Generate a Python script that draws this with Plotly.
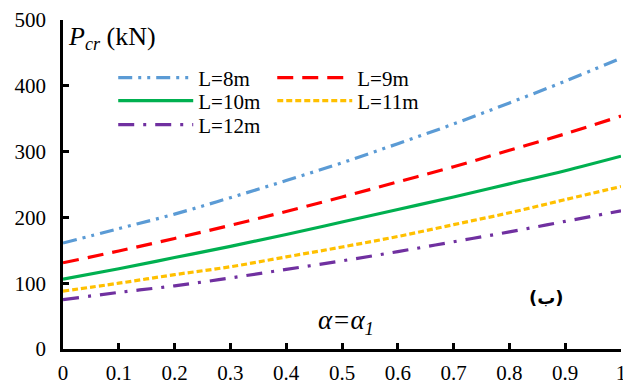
import plotly.graph_objects as go

# ratio values along the horizontal axis
x_vals = [0, 0.1, 0.2, 0.3, 0.4, 0.5, 0.6, 0.7, 0.8, 0.9, 1.0]

# critical load (kN) for each span length
p_8m = [161, 183, 205, 230, 256, 283, 312, 342, 374, 407, 442]
p_9m = [131, 149, 168, 188, 209, 231, 254, 277, 302, 327, 354]
p_10m = [106, 122, 139, 156, 174, 193, 212, 231, 251, 271, 293]
p_11m = [88, 100, 113, 125, 140, 155, 171, 189, 207, 227, 247]
p_12m = [75, 86, 96, 108, 121, 134, 148, 163, 178, 194, 210]

series_names = ["L=8m", "L=9m", "L=10m", "L=11m", "L=12m"]

x_ticks = [0, 0.1, 0.2, 0.3, 0.4, 0.5, 0.6, 0.7, 0.8, 0.9, 1]
y_ticks = [0, 100, 200, 300, 400, 500]

# each series gets its own one-item legend so entries sit in a 2-column grid
styles = [
    dict(color="#5B9BD5", dash="14px,6px,3px,6px,3px,6px", legend="legend", lx=0.09, ly=0.8237),
    dict(color="#FF0000", dash="16px,9px", legend="legend2", lx=0.375, ly=0.8237),
    dict(color="#00B050", dash="solid", legend="legend3", lx=0.09, ly=0.7538),
    dict(color="#FFC000", dash="6px,3px", legend="legend4", lx=0.375, ly=0.7538),
    dict(color="#7030A0", dash="16px,9px,3px,9px", legend="legend5", lx=0.09, ly=0.6809),
]

serif = "Times New Roman, Liberation Serif, serif"

fig = go.Figure()
for name, ys, st in zip(series_names, [p_8m, p_9m, p_10m, p_11m, p_12m], styles):
    fig.add_trace(go.Scatter(
        x=x_vals, y=ys, name=name, mode="lines",
        line=dict(color=st["color"], width=3.2, dash=st["dash"],
                  shape="spline", smoothing=1.0),
        legend=st["legend"],
    ))

axis_common = dict(
    showline=True, linecolor="black", linewidth=2.6,
    ticks="inside", ticklen=6, tickwidth=2.6, tickcolor="black",
    showgrid=False, zeroline=False, automargin=False,
    tickfont=dict(family=serif, size=21, color="black"),
    ticklabeloverflow="allow",
)

legends = {}
for st in styles:
    legends[st["legend"]] = dict(
        x=st["lx"], y=st["ly"], xanchor="left", yanchor="middle",
        font=dict(family=serif, size=21, color="black"),
        bgcolor="rgba(0,0,0,0)", itemwidth=75, orientation="v",
    )

fig.update_layout(
    width=623, height=385,
    margin=dict(l=63, r=2, t=20, b=36, autoexpand=False),
    plot_bgcolor="white", paper_bgcolor="white",
    xaxis=dict(range=[0, 1], tickvals=x_ticks, ticklabelstandoff=3, **axis_common),
    yaxis=dict(range=[0, 500], tickvals=y_ticks, ticklabelstandoff=10, **axis_common),
    showlegend=True,
    **legends,
)

fig.add_annotation(
    text="<i>P</i><sub><i>cr</i></sub> (kN)", xref="paper", yref="paper",
    x=0.005, y=1.0, xanchor="left", yanchor="top", showarrow=False,
    font=dict(family=serif, size=26, color="black"),
)
fig.add_annotation(
    text="<i>α=α<sub>1</sub></i>", xref="paper", yref="paper",
    x=0.453, y=0.082, xanchor="left", yanchor="middle", showarrow=False,
    font=dict(family=serif, size=27, color="black"),
)
fig.add_annotation(
    text="<b>(ب)</b>", xref="paper", yref="paper",
    x=0.867, y=0.158, xanchor="center", yanchor="middle", showarrow=False,
    font=dict(family="DejaVu Sans", size=18, color="black"),
)

fig.write_html("out.html")
